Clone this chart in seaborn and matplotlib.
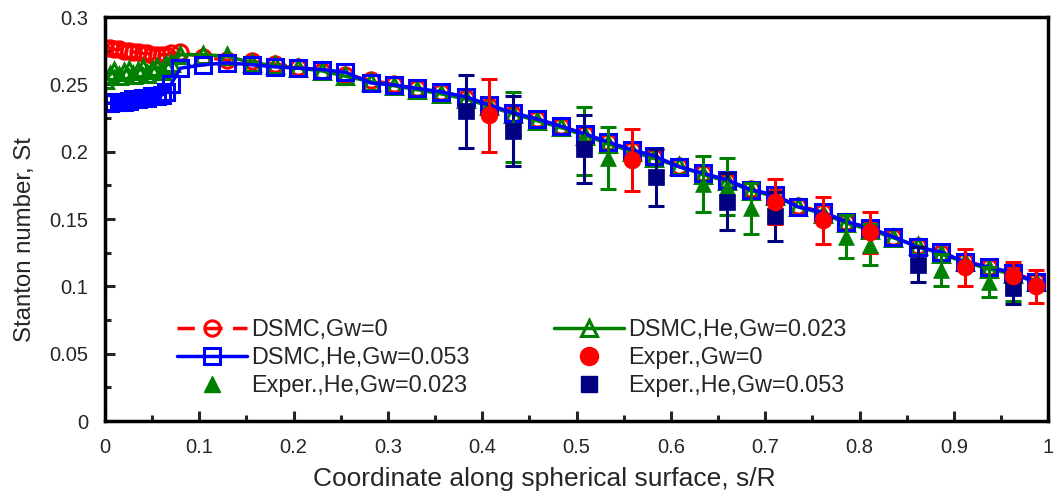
import matplotlib
matplotlib.use("Agg")
import matplotlib.pyplot as plt
from matplotlib.lines import Line2D
from matplotlib.ticker import MultipleLocator
import seaborn as sns
import pandas as pd

# DSMC curves (s/R, St)
s_near = [0.0, 0.005, 0.01, 0.015, 0.02, 0.025, 0.03, 0.035, 0.04, 0.045,
          0.05, 0.055, 0.06, 0.065, 0.07]
s_main = [0.08, 0.104, 0.129, 0.156, 0.18, 0.205, 0.23, 0.255, 0.282, 0.306,
          0.331, 0.356, 0.383, 0.407, 0.433, 0.458, 0.483, 0.509, 0.533, 0.559,
          0.582, 0.609, 0.634, 0.66, 0.685, 0.71, 0.735, 0.761, 0.786, 0.811,
          0.836, 0.862, 0.886, 0.912, 0.937, 0.963, 0.987]

st_main_he053 = [0.262, 0.2645, 0.266, 0.2645, 0.263, 0.262, 0.261, 0.259, 0.251, 0.2496,
                 0.247, 0.2445, 0.2407, 0.2348, 0.2288, 0.2244, 0.219, 0.2132, 0.2073, 0.2013,
                 0.197, 0.1887, 0.184, 0.179, 0.1716, 0.168, 0.159, 0.155, 0.148, 0.1434,
                 0.1367, 0.129, 0.1256, 0.118, 0.1144, 0.11, 0.103]
st_main_gw0 = [0.274, 0.270, 0.268, 0.267, 0.265, 0.263, 0.260, 0.257, 0.253, 0.250,
               0.247, 0.244, 0.240, 0.234, 0.228, 0.224, 0.219, 0.213, 0.207, 0.201,
               0.196, 0.189, 0.184, 0.178, 0.172, 0.167, 0.160, 0.155, 0.148, 0.143,
               0.137, 0.130, 0.125, 0.119, 0.114, 0.110, 0.104]
st_main_he023 = [0.272, 0.272, 0.271, 0.266, 0.264, 0.262, 0.260, 0.256, 0.252, 0.249,
                 0.246, 0.243, 0.239, 0.234, 0.228, 0.223, 0.218, 0.212, 0.206, 0.200,
                 0.195, 0.189, 0.183, 0.178, 0.171, 0.167, 0.159, 0.154, 0.147, 0.142,
                 0.136, 0.130, 0.124, 0.118, 0.113, 0.109, 0.103]

st_near_gw0 = [0.277, 0.277, 0.276, 0.276, 0.275, 0.275, 0.274, 0.274, 0.273, 0.273,
               0.272, 0.272, 0.272, 0.272, 0.273]
st_near_he023 = [0.253, 0.257, 0.260, 0.256, 0.259, 0.261, 0.257, 0.260, 0.262, 0.258,
                 0.261, 0.263, 0.260, 0.264, 0.266]
st_near_he053 = [0.236, 0.236, 0.237, 0.237, 0.237, 0.238, 0.239, 0.239, 0.240, 0.240,
                 0.241, 0.241, 0.242, 0.244, 0.250]

# Experiments (s/R, St, error)
exp_gw0_s = [0.407, 0.559, 0.71, 0.761, 0.811, 0.912, 0.963, 0.987]
exp_gw0_st = [0.227, 0.194, 0.163, 0.149, 0.140, 0.114, 0.108, 0.100]
exp_gw0_err = [0.027, 0.023, 0.017, 0.0175, 0.015, 0.014, 0.01, 0.012]

exp_he023_s = [0.433, 0.508, 0.533, 0.634, 0.66, 0.685, 0.786, 0.811, 0.886, 0.937, 0.963]
exp_he023_st = [0.218, 0.208, 0.195, 0.176, 0.174, 0.158, 0.137, 0.131, 0.112, 0.103, 0.100]
exp_he023_err = [0.026, 0.025, 0.023, 0.021, 0.021, 0.019, 0.016, 0.015, 0.012, 0.011, 0.011]

exp_he053_s = [0.383, 0.433, 0.508, 0.584, 0.66, 0.71, 0.862, 0.963]
exp_he053_st = [0.230, 0.215, 0.202, 0.181, 0.163, 0.152, 0.116, 0.099]
exp_he053_err = [0.027, 0.026, 0.025, 0.021, 0.021, 0.018, 0.013, 0.012]

x_ticks = [0, 0.1, 0.2, 0.3, 0.4, 0.5, 0.6, 0.7, 0.8, 0.9, 1]
x_labels = ["0", "0.1", "0.2", "0.3", "0.4", "0.5", "0.6", "0.7", "0.8", "0.9", "1"]
y_ticks = [0, 0.05, 0.1, 0.15, 0.2, 0.25, 0.3]
y_labels = ["0", "0.05", "0.1", "0.15", "0.2", "0.25", "0.3"]

sns.set_style("ticks")
plt.rcParams["font.family"] = ["Liberation Sans", "DejaVu Sans"]

RED, GREEN, BLUE, NAVY = "#ff0000", "#008000", "#0000ff", "#000080"

fig = plt.figure(figsize=(10.55, 4.96), dpi=100)
ax = fig.add_axes([0.0995, 0.1512, 0.894, 0.8145])

dsmc = [
    (st_near_gw0 + st_main_gw0, RED, "o", (5, 3)),
    (st_near_he023 + st_main_he023, GREEN, "^", None),
    (st_near_he053 + st_main_he053, BLUE, "s", None),
]
s_all = s_near + s_main
for st, c, m, dash in dsmc:
    df = pd.DataFrame({"s": s_all, "st": st})
    sns.lineplot(data=df, x="s", y="st", ax=ax, color=c, marker=m, markersize=11,
                 markerfacecolor="none", markeredgecolor=c, markeredgewidth=2.2,
                 linewidth=2.5, errorbar=None, zorder=2)
    if dash is not None:
        ax.lines[-1].set_dashes(dash)

exps = [
    (exp_he023_s, exp_he023_st, exp_he023_err, GREEN, "^", 130),
    (exp_he053_s, exp_he053_st, exp_he053_err, NAVY, "s", 120),
    (exp_gw0_s, exp_gw0_st, exp_gw0_err, RED, "o", 150),
]
for s, st, err, c, m, size in exps:
    ax.errorbar(s, st, yerr=err, fmt="none", ecolor=c, elinewidth=2.2,
                capsize=6, capthick=2.2, zorder=3)
    sns.scatterplot(x=s, y=st, ax=ax, color=c, marker=m, s=size,
                    edgecolor=c, linewidth=0.5, zorder=4)

ax.set_xlim(0, 1)
ax.set_ylim(0, 0.3)
ax.set_xticks(x_ticks)
ax.set_xticklabels(x_labels)
ax.set_yticks(y_ticks)
ax.set_yticklabels(y_labels)
ax.xaxis.set_minor_locator(MultipleLocator(0.05))
ax.yaxis.set_minor_locator(MultipleLocator(0.025))
ax.tick_params(which="major", direction="in", length=7, width=2.2,
               labelsize=14.5, top=False, right=False)
ax.tick_params(axis="y", which="major", pad=12)
ax.tick_params(axis="x", which="major", pad=12)
ax.tick_params(which="minor", direction="in", length=4, width=2.2,
               top=False, right=False)
for sp in ax.spines.values():
    sp.set_linewidth(2.5)
    sp.set_color("black")
    sp.set_visible(True)
ax.set_xlabel("Coordinate along spherical surface, s/R", fontsize=19, labelpad=6)
ax.set_ylabel("Stanton number, St", fontsize=17.3, labelpad=8)
ax.xaxis.set_label_coords(0.466, -0.115)
ax.yaxis.set_label_coords(-0.073, 0.45)

handles = [
    Line2D([], [], color=RED, ls=(0, (5, 3)), lw=2.5, marker="o", ms=11, mfc="none", mec=RED, mew=2.2),
    Line2D([], [], color=BLUE, lw=2.5, marker="s", ms=11, mfc="none", mec=BLUE, mew=2.2),
    Line2D([], [], color=GREEN, ls="none", marker="^", ms=12),
    Line2D([], [], color=GREEN, lw=2.5, marker="^", ms=11, mfc="none", mec=GREEN, mew=2.2),
    Line2D([], [], color=RED, ls="none", marker="o", ms=13),
    Line2D([], [], color=NAVY, ls="none", marker="s", ms=12),
]
labels = ["DSMC,Gw=0", "DSMC,He,Gw=0.053", "Exper.,He,Gw=0.023",
          "DSMC,He,Gw=0.023", "Exper.,Gw=0", "Exper.,He,Gw=0.053"]
ax.legend(handles, labels, ncol=2, frameon=False, fontsize=16.8,
          loc="lower left", bbox_to_anchor=(0.054, 0.008), handlelength=3,
          columnspacing=3.6, labelspacing=0.2, handletextpad=0.2)

fig.savefig("out.png", dpi=100)
